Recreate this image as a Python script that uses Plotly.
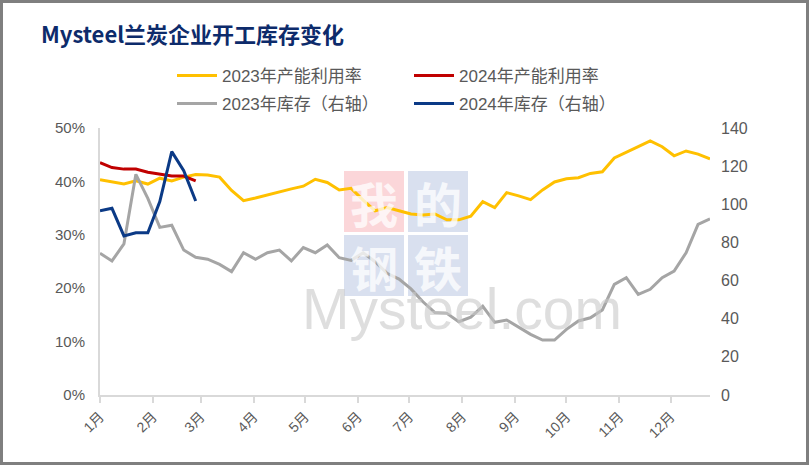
import plotly.graph_objects as go
import pandas as pd

# ---------------- data ----------------
weeks = pd.date_range("2023-01-01", periods=52, freq="7D")
util_2023 = [40.3, 39.9, 39.5, 40.1, 39.5, 40.6, 40.1, 40.8, 41.3, 41.2, 40.8, 38.3, 36.4, 36.9, 37.5,
             38.1, 38.6, 39.1, 40.4, 39.8, 38.4, 38.7, 36.5, 34.5, 35.1, 34.5, 33.9, 33.7, 33.9, 32.8,
             32.8, 33.5, 36.2, 35.1, 37.9, 37.3, 36.6,
             38.4, 39.9, 40.5, 40.7, 41.5, 41.8, 44.4, 45.4, 46.5, 47.6, 46.5, 44.8, 45.7, 45.1, 44.2]
util_2024 = [43.5, 42.6, 42.3, 42.3, 41.7, 41.3, 41.0, 41.0, 40.1]
inv_2023 = [74.3, 70.3, 79.2, 115.7, 103.1, 87.9, 89.0, 76.0, 72.2, 71.2, 68.5, 64.7, 74.6, 71.2, 74.6,
            76.0, 70.3, 77.3, 74.6, 78.7, 72.0, 70.6, 74.6, 69.9, 63.8, 60.8, 55.6, 48.9, 43.2, 42.8,
            38.4, 40.8, 46.5, 38.1, 39.3, 35.4, 31.8,
            28.8, 28.8, 34.4, 38.8, 40.5, 44.6, 58.0, 61.5, 52.8, 55.4, 61.5, 65.0, 74.6, 89.5, 92.3]
inv_2024 = [96.6, 97.9, 83.4, 85.1, 85.1, 101.4, 127.6, 117.6, 101.7]

month_ticks = pd.date_range("2023-01-01", periods=12, freq="MS")
month_labels = [f"{m}月" for m in range(1, 13)]
left_ticks = [0, 10, 20, 30, 40, 50]
right_ticks = [0, 20, 40, 60, 80, 100, 120, 140]

names = ["2023年产能利用率", "2024年产能利用率", "2023年库存（右轴）", "2024年库存（右轴）"]
colors = ["#FFC000", "#C00000", "#A5A5A5", "#0B3A86"]

# ---------------- layout geometry ----------------
W, H = 809, 465
L, R, T, B = 100, 99, 128, 70
PW, PH = W - L - R, H - T - B


def px(x):
    return (x - L) / PW


def py(y):
    return (H - B - y) / PH


FONT = "Liberation Sans, Arial, Noto Sans CJK SC, sans-serif"

fig = go.Figure()
fig.add_trace(go.Scatter(x=weeks, y=util_2023, name=names[0], mode="lines",
                         line=dict(color=colors[0], width=3), yaxis="y", legend="legend"))
fig.add_trace(go.Scatter(x=weeks[:len(util_2024)], y=util_2024, name=names[1], mode="lines",
                         line=dict(color=colors[1], width=3), yaxis="y", legend="legend"))
fig.add_trace(go.Scatter(x=weeks, y=inv_2023, name=names[2], mode="lines",
                         line=dict(color=colors[2], width=3), yaxis="y2", legend="legend2"))
fig.add_trace(go.Scatter(x=weeks[:len(inv_2024)], y=inv_2024, name=names[3], mode="lines",
                         line=dict(color=colors[3], width=3), yaxis="y2", legend="legend2"))

shapes = []
annotations = []

# watermark boxes
boxes = [("我", 344, 171, "rgba(248,180,186,0.55)"),
         ("的", 408, 171, "rgba(180,194,224,0.5)"),
         ("钢", 344, 235, "rgba(180,194,224,0.5)"),
         ("铁", 408, 235, "rgba(180,194,224,0.5)")]
for ch, bx, by, col in boxes:
    shapes.append(dict(type="rect", xref="paper", yref="paper", layer="below",
                       x0=px(bx), x1=px(bx + 60), y0=py(by + 61), y1=py(by),
                       fillcolor=col, line=dict(width=0)))
    annotations.append(dict(text=ch, xref="paper", yref="paper", showarrow=False,
                            x=px(bx + 30), y=py(by + 31), xanchor="center", yanchor="middle",
                            font=dict(size=48, color="rgba(255,255,255,0.75)",
                                      family="Noto Sans CJK SC", weight="bold")))
annotations.append(dict(text="Mysteel.com", xref="paper", yref="paper", showarrow=False,
                        x=px(300), y=py(343), xanchor="left", yanchor="bottom",
                        font=dict(size=57, color="rgba(200,200,200,0.6)",
                                  family="Liberation Sans Narrow, Liberation Sans, sans-serif")))

# title
annotations.append(dict(text="<b>Mysteel兰炭企业开工库存变化</b>", xref="paper", yref="paper",
                        showarrow=False, x=px(39), y=py(33), xanchor="left", yanchor="middle",
                        font=dict(size=22, color="#0D2B6B", family="Noto Sans CJK SC")))

# outer frame
shapes.append(dict(type="rect", xref="paper", yref="paper",
                   x0=px(1.5), x1=px(W - 1.5), y0=py(H - 1.5), y1=py(1.5),
                   line=dict(color="#7F7F7F", width=3), fillcolor="rgba(0,0,0,0)"))

legend_common = dict(orientation="h", xanchor="left", yanchor="middle",
                     entrywidth=182, entrywidthmode="pixels",
                     font=dict(size=17, color="#595959", family="Liberation Sans, Noto Sans CJK SC"),
                     bgcolor="rgba(0,0,0,0)", itemwidth=40)

fig.update_layout(
    width=W, height=H,
    margin=dict(l=L, r=R, t=T, b=B),
    paper_bgcolor="white", plot_bgcolor="white",
    font=dict(family=FONT, color="#595959"),
    showlegend=True,
    legend=dict(x=px(172), y=py(76), **legend_common),
    legend2=dict(x=px(172), y=py(104), **legend_common),
    xaxis=dict(type="date", range=[weeks[0], weeks[-1]],
               tickmode="array", tickvals=month_ticks, ticktext=month_labels,
               tickangle=-45, ticks="outside", ticklen=6, tickcolor="#D9D9D9", tickwidth=1.5,
               showline=True, linecolor="#D9D9D9", linewidth=2,
               showgrid=False, zeroline=False,
               tickfont=dict(size=14, color="#595959")),
    yaxis=dict(range=[0, 50], tickmode="array", tickvals=left_ticks,
               ticktext=[f"{v}%" for v in left_ticks],
               showline=True, linecolor="#D9D9D9", linewidth=2,
               showgrid=False, zeroline=False, ticks="", ticklabelstandoff=10,
               tickfont=dict(size=15, color="#595959")),
    yaxis2=dict(range=[0, 140], tickmode="array", tickvals=right_ticks,
                overlaying="y", side="right", showline=False, showgrid=False, zeroline=False,
                ticks="", ticklabelstandoff=10,
                tickfont=dict(size=16, color="#595959")),
    shapes=shapes,
    annotations=annotations,
)

fig.write_html("out.html", config={"displayModeBar": False},
               post_script="document.body.style.margin='0';document.body.style.overflow='hidden';")
